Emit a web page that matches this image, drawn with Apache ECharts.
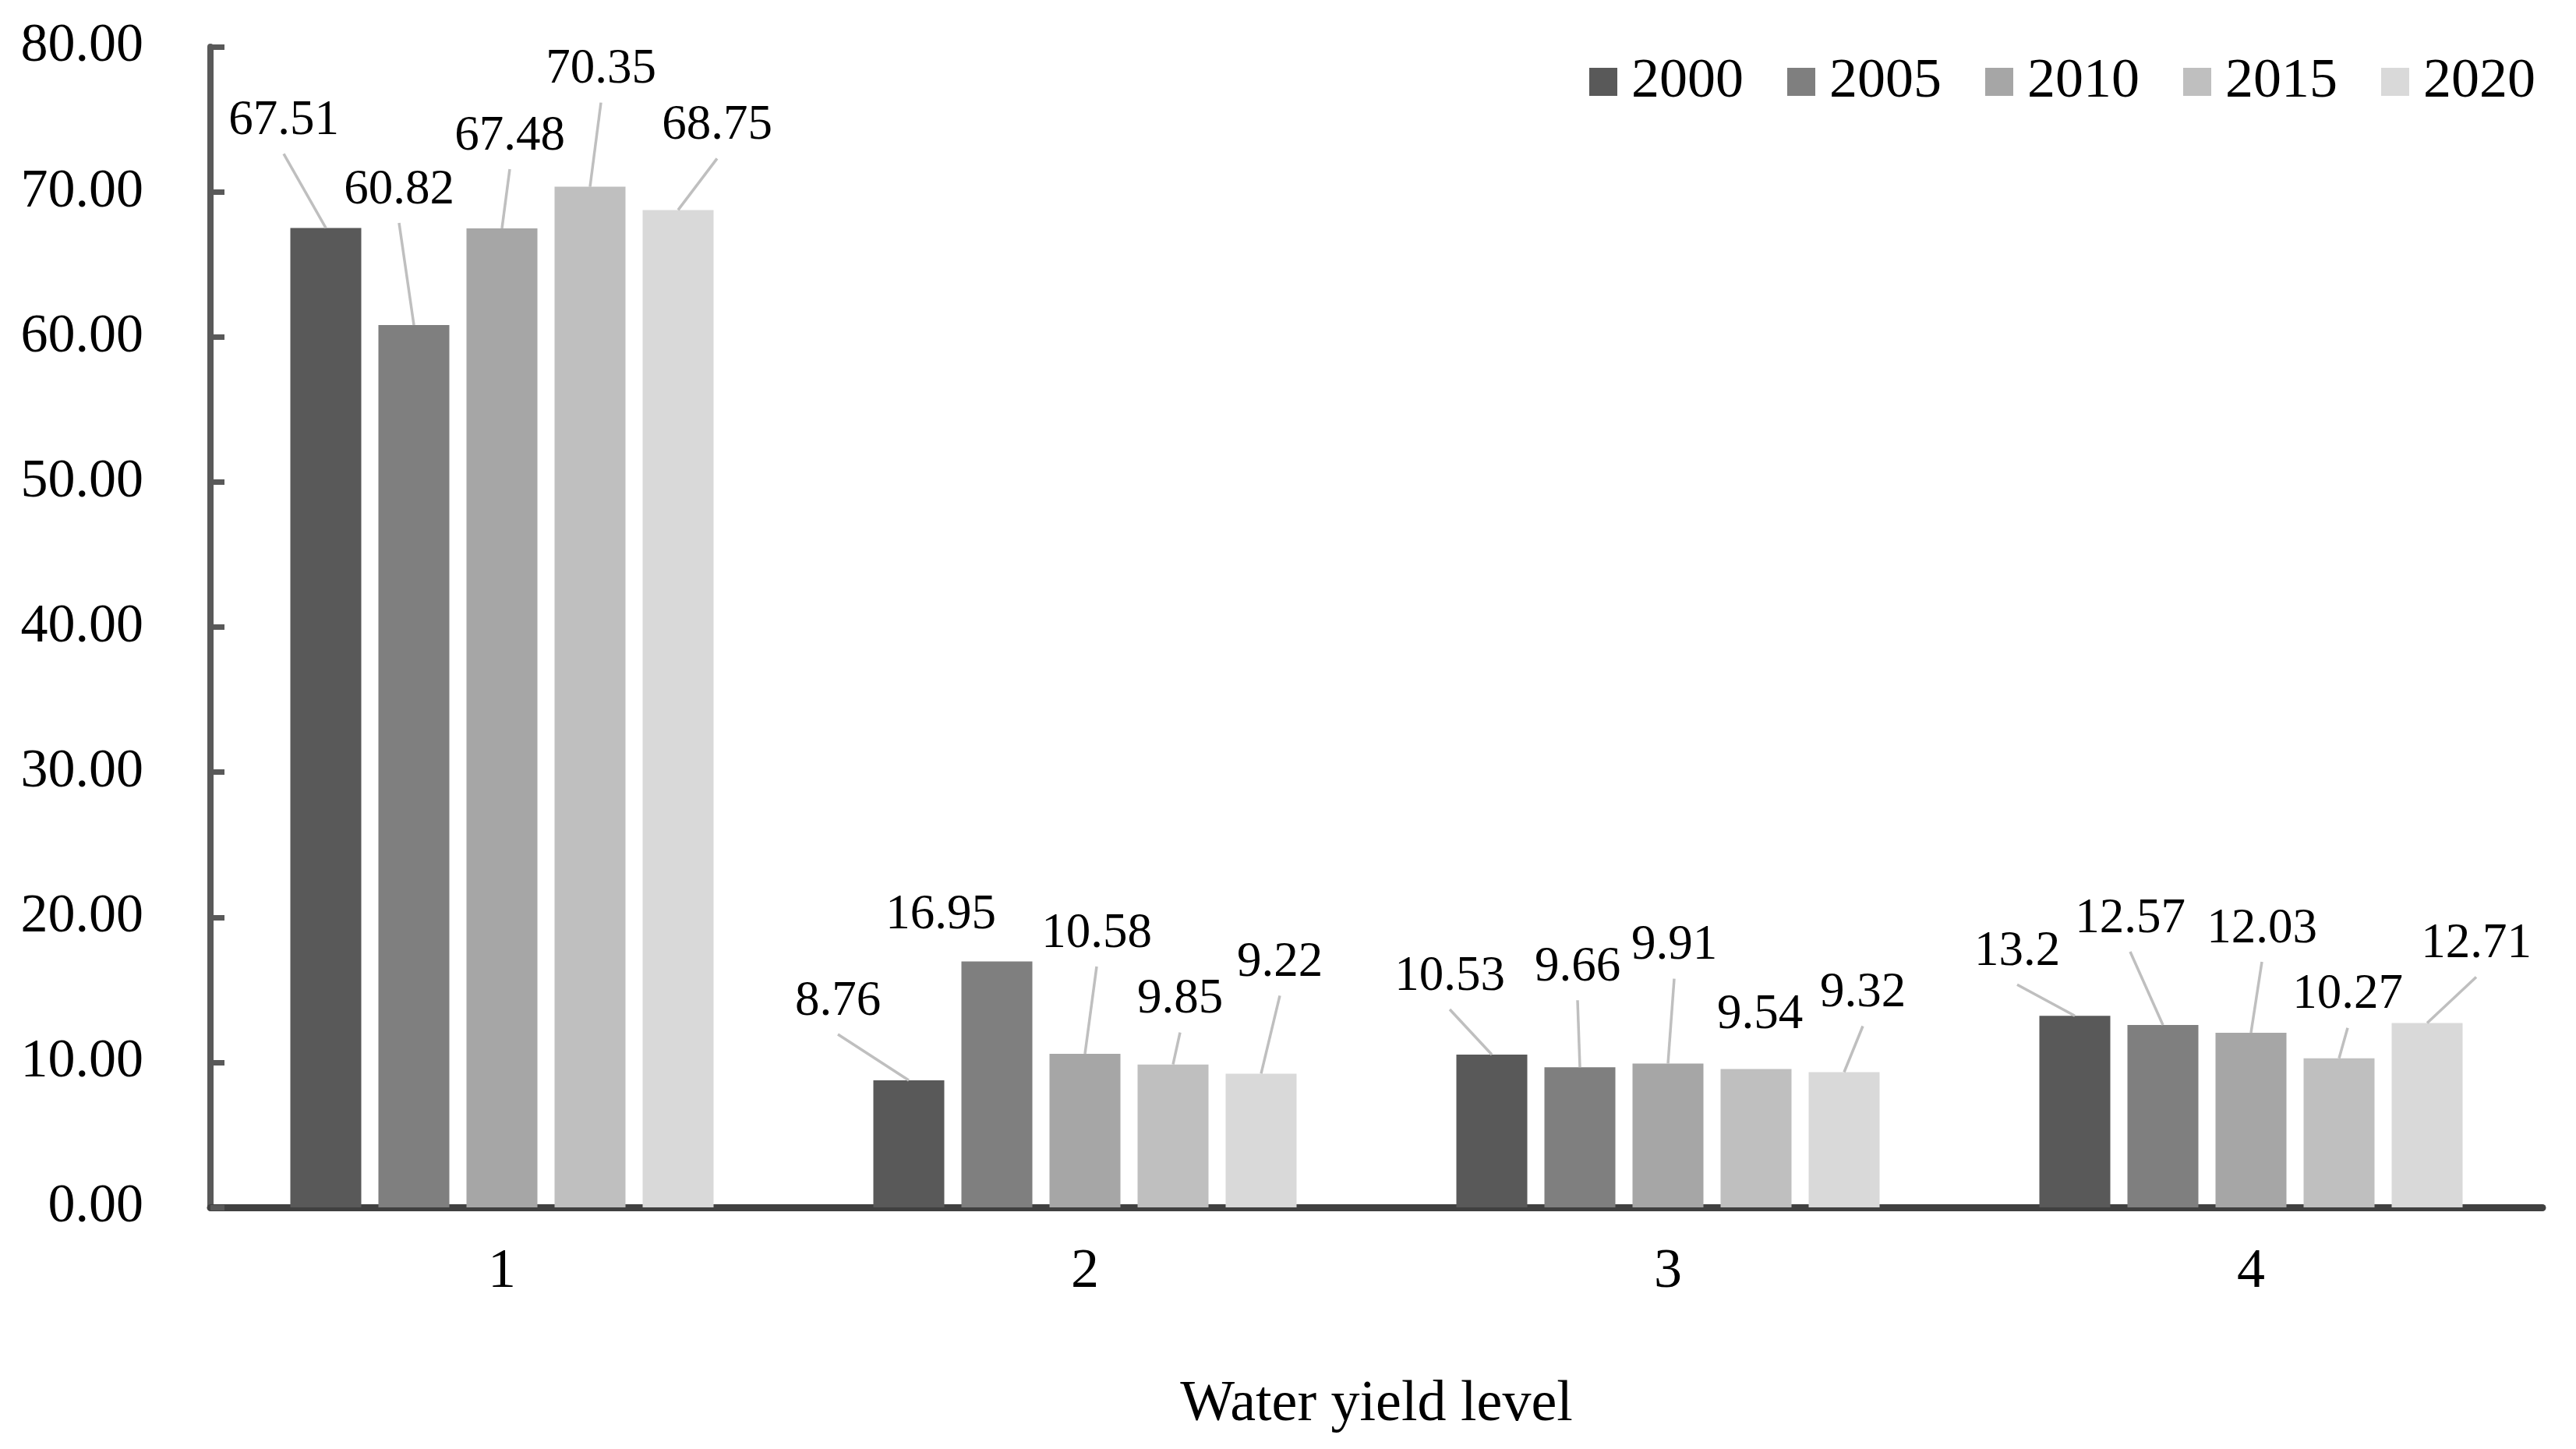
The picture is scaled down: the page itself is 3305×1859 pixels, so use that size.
<!DOCTYPE html>
<html>
<head>
<meta charset="utf-8">
<script src="https://cdn.jsdelivr.net/npm/echarts@6/dist/echarts.min.js"></script>
<style>
html,body{margin:0;padding:0;background:#fff;}
#chart{width:3305px;height:1859px;}
</style>
</head>
<body>
<div id="chart"></div>
<script>
// ---- data ----
const categories = ['1', '2', '3', '4'];
const years = ['2000', '2005', '2010', '2015', '2020'];
const v2000 = [67.51, 8.76, 10.53, 13.2];
const v2005 = [60.82, 16.95, 9.66, 12.57];
const v2010 = [67.48, 10.58, 9.91, 12.03];
const v2015 = [70.35, 9.85, 9.54, 10.27];
const v2020 = [68.75, 9.22, 9.32, 12.71];
const yMin = 0, yMax = 80, yStep = 10;

// ---- styling / layout ----
const seriesValues = [v2000, v2005, v2010, v2015, v2020];
const colors = ['#595959', '#7f7f7f', '#a6a6a6', '#bfbfbf', '#d9d9d9'];
const FONT = "'Liberation Serif', 'Times New Roman', serif";
const BAR_W = 91, BAR_GAP = 22, STEP = BAR_W + BAR_GAP;
// label offsets (px) of each label centre from the top-centre of its bar
const labelOffsets = [
  [[-54, -137], [-91, -101], [-54, -100], [-74, -82]],
  [[-19, -173], [-72, -59], [-3, -128], [-42, -136]],
  [[10, -118], [15, -154], [8, -151], [14, -133]],
  [[14, -150], [9, -83], [5, -69], [11, -81]],
  [[50, -108], [24, -142], [24, -101], [63, -101]]
];

const chart = echarts.init(document.getElementById('chart'));

const barSeries = years.map((y, s) => ({
  name: y,
  type: 'bar',
  data: seriesValues[s],
  barWidth: BAR_W,
  barGap: (BAR_GAP / BAR_W * 100) + '%',
  itemStyle: { color: colors[s] },
  label: {
    show: true,
    position: 'top',
    color: '#000',
    fontFamily: FONT,
    fontSize: 63
  },
  labelLayout: function (params) {
    const o = labelOffsets[params.seriesIndex][params.dataIndex];
    return {
      x: params.rect.x + params.rect.width / 2 + o[0],
      y: params.rect.y + o[1],
      align: 'center',
      verticalAlign: 'middle'
    };
  },
  silent: true
}));

const leaderData = [];
seriesValues.forEach((vals, s) => vals.forEach((v, c) => leaderData.push([c, v, s])));

const leaderSeries = {
  type: 'custom',
  silent: true,
  encode: { x: 0, y: 1 },
  data: leaderData,
  z: 3,
  renderItem: function (params, api) {
    const c = api.value(0), v = api.value(1), s = api.value(2);
    const p = api.coord([c, v]);
    const bx = p[0] + (s - 2) * STEP;
    const o = labelOffsets[s][c];
    if (o[1] > -75) return null;
    return {
      type: 'line',
      shape: { x1: bx + o[0], y1: p[1] + o[1] + 42, x2: bx, y2: p[1] },
      style: { stroke: '#bfbfbf', lineWidth: 3.5 }
    };
  }
};

chart.setOption({
  backgroundColor: '#fff',
  animation: false,
  textStyle: { fontFamily: FONT },
  legend: {
    data: years,
    right: 52,
    top: 69,
    icon: 'rect',
    itemWidth: 36,
    itemHeight: 36,
    itemGap: 56,
    padding: 0,
    textStyle: { fontFamily: FONT, fontSize: 72, color: '#000', padding: [0, 0, 0, 13] }
  },
  grid: { left: 270, right: 43, top: 60, bottom: 310, outerBoundsMode: 'none', containLabel: false },
  xAxis: {
    type: 'category',
    data: categories,
    axisLine: { show: true, lineStyle: { color: '#404040', width: 9 } },
    axisTick: { show: false },
    axisLabel: { fontFamily: FONT, fontSize: 72, color: '#000', margin: 47 },
    splitLine: { show: false },
    name: 'Water yield level',
    nameLocation: 'middle',
    nameGap: 217,
    nameTextStyle: { fontFamily: FONT, fontSize: 74, color: '#000' }
  },
  yAxis: {
    type: 'value',
    min: yMin,
    max: yMax,
    interval: yStep,
    axisLine: { show: true, lineStyle: { color: '#595959', width: 8 } },
    axisTick: { show: true, inside: true, length: 18, lineStyle: { color: '#595959', width: 7 } },
    axisLabel: {
      fontFamily: FONT, fontSize: 70, color: '#000', margin: 86,
      formatter: v => v.toFixed(2)
    },
    splitLine: { show: false }
  },
  series: barSeries.concat([leaderSeries])
});
</script>
</body>
</html>
